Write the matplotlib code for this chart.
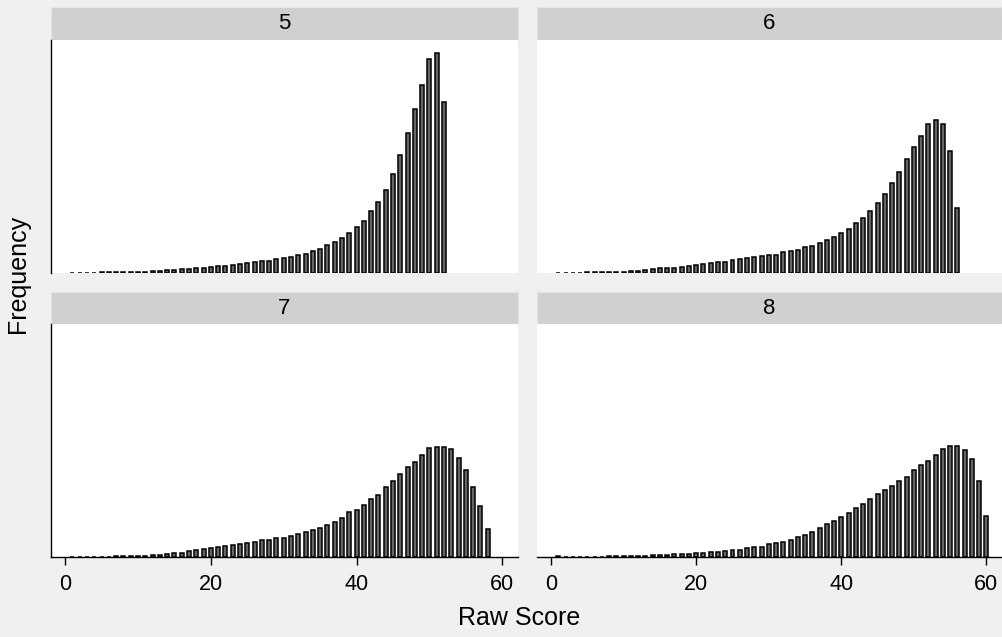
import matplotlib
matplotlib.use("Agg")
import matplotlib.pyplot as plt

plt.rcParams['font.family'] = ['Liberation Sans', 'DejaVu Sans']

# grade panels and frequency of each raw score (score 1 .. n)
grades = ["5", "6", "7", "8"]

freq5 = [0.5, 0.5, 0.5, 0.5, 0.6, 0.6, 0.7, 0.8, 0.9, 1.2,
         1.5, 1.8, 2.3, 2.7, 3.3, 3.7, 4.3, 4.7, 5.3, 5.7,
         7, 7.3, 8.3, 9.3, 10, 11, 12, 12.3, 14, 15,
         16, 17.7, 18.7, 22, 24, 28, 30.7, 34.7, 40, 46,
         52.3, 61.7, 71, 82.7, 98.7, 117.7, 140.3, 163.7, 188, 213.7,
         219.7, 171]
freq6 = [0.5, 0.5, 0.5, 0.5, 0.6, 0.7, 0.8, 0.9, 1.2, 1.5,
         1.8, 2.2, 2.7, 3.7, 4.7, 5, 5.3, 6, 7.3, 8,
         8.7, 10, 10.7, 10.7, 13.3, 14, 14.7, 16, 16.7, 18,
         18, 20.7, 21.7, 22.7, 26, 26.7, 30.3, 33.3, 36, 40,
         44.3, 50, 55, 62.3, 70, 79, 90.3, 101.3, 114.3, 126.3,
         137.3, 149.3, 152.7, 149.3, 122.3, 65.3]
freq7 = [0.4, 0.4, 0.4, 0.4, 0.5, 0.5, 0.6, 0.7, 0.8, 1.0,
         1.3, 1.7, 2.3, 3, 3.7, 4.3, 5.7, 6.7, 7.7, 9.3,
         10.3, 11, 11.7, 13, 13.7, 15, 16.7, 16.7, 18.7, 19.3,
         21.3, 22.7, 24.7, 27, 29.3, 32.3, 35, 39, 44.7, 47.3,
         51.7, 58.3, 61.7, 70, 75.7, 82.7, 89.7, 95, 102, 109,
         110.3, 110, 108, 99, 87.3, 70.3, 51, 28.3]
freq8 = [0.8, 0.4, 0.4, 0.4, 0.4, 0.5, 0.5, 0.6, 0.7, 0.8,
         0.9, 1.1, 1.4, 1.7, 2, 2.3, 2.7, 2.7, 3, 4,
         4, 4.7, 5.3, 5.7, 7, 7, 8.7, 9.7, 10.3, 12.7,
         13.7, 14.7, 17.3, 19.7, 22, 25.3, 29.3, 32.7, 36.3, 40,
         44, 48.7, 53, 57.7, 63.3, 66.7, 71.3, 76.3, 80, 86.7,
         92.3, 96.3, 102, 108, 110.7, 110.7, 107.3, 98, 75.7, 40.7]
freqs = [freq5, freq6, freq7, freq8]
xticks = [0, 20, 40, 60]

W, H = 1002, 637
fig = plt.figure(figsize=(W / 100, H / 100), dpi=100)
fig.patch.set_facecolor("#f0f0f0")

def box(x0, y0, x1, y1):
    # pixel box (top-left origin) -> figure fraction rect
    return [x0 / W, 1 - y1 / H, (x1 - x0) / W, (y1 - y0) / H]

cols = [(51, 518), (537, 1002)]
rows = [(7, 40, 273), (292, 324, 557)]

for i in range(4):
    r, c = i // 2, i % 2
    x0, x1 = cols[c]
    s0, s1, b = rows[r]

    st = fig.add_axes(box(x0, s0, x1, s1))
    st.set_facecolor("#d0d0d0")
    st.set_xticks([])
    st.set_yticks([])
    for sp in st.spines.values():
        sp.set_color("#dde8ee")
        sp.set_linewidth(0.8)
    st.text(0.5, 0.5, grades[i], ha="center", va="center", fontsize=16,
            transform=st.transAxes)

    ax = fig.add_axes(box(x0, s1, x1, b))
    ax.set_facecolor("white")
    scores = list(range(1, len(freqs[i]) + 1))
    ax.bar(scores, freqs[i], width=0.55, color="#666666", edgecolor="black",
           linewidth=1.1)
    ax.set_xlim(-1.95, 62.15)
    ax.set_ylim(0, 233)
    ax.set_yticks([])
    ax.spines["top"].set_visible(False)
    ax.spines["right"].set_visible(False)
    if c == 1:
        ax.spines["left"].set_visible(False)
    else:
        ax.spines["left"].set_linewidth(1.0)
    if r == 0:
        ax.spines["bottom"].set_visible(False)
        ax.set_xticks([])
    else:
        ax.spines["bottom"].set_linewidth(1.0)
        ax.set_xticks(xticks)
        ax.tick_params(axis="x", length=6, width=1, labelsize=15.5, pad=6)

fig.text(18 / W, 1 - 274 / H, "Frequency", rotation=90, ha="center",
         va="center", fontsize=18)
fig.text(519 / W, 1 - 618 / H, "Raw Score", ha="center", va="center",
         fontsize=18)

fig.savefig("out.png", dpi=100, facecolor=fig.get_facecolor())
